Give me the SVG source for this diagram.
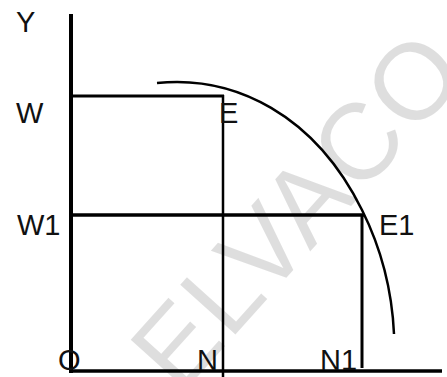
<svg xmlns="http://www.w3.org/2000/svg" width="447" height="377" viewBox="0 0 447 377">
<style>
.lbl{font-family:"Liberation Sans",Arial,sans-serif;font-size:29px;fill:#111}
.ln{stroke:#000;fill:none;stroke-linecap:butt}
.wm{font-family:"Liberation Sans",Arial,sans-serif;font-size:108px;fill:#000;fill-opacity:0.13}
</style>
<rect width="447" height="377" fill="#fff"/>
<g id="watermark">
<text class="wm" transform="translate(180,396) rotate(-48)" x="0" y="0" letter-spacing="2">ELVACO</text>
</g>
<g id="connectors">
<line class="ln" x1="71" y1="14" x2="71" y2="373" stroke-width="4"/>
<line class="ln" x1="69" y1="371" x2="442" y2="371" stroke-width="3.5"/>
<line class="ln" x1="71" y1="96" x2="224" y2="96" stroke-width="3"/>
<line class="ln" x1="223" y1="95" x2="223" y2="377" stroke-width="2.5"/>
<line class="ln" x1="71" y1="215" x2="364" y2="215" stroke-width="3.5"/>
<line class="ln" x1="362" y1="214" x2="362" y2="368" stroke-width="3"/>
<path id="curve" class="ln" d="M157,83 C235,75 315,115 362,210 C381,248 392,290 394,334" stroke-width="2.5"/>
</g>
<g id="node-Y"><text class="lbl" x="16" y="32">Y</text></g>
<g id="node-W"><text class="lbl" x="16" y="123">W</text></g>
<g id="node-W1"><text class="lbl" x="17" y="235">W1</text></g>
<g id="node-O"><text class="lbl" x="58" y="370">O</text></g>
<g id="node-N"><text class="lbl" x="197" y="370">N</text></g>
<g id="node-N1"><text class="lbl" x="320" y="370">N1</text></g>
<g id="node-E"><text class="lbl" x="219" y="123">E</text></g>
<g id="node-E1"><text class="lbl" x="379" y="235">E1</text></g>
</svg>
